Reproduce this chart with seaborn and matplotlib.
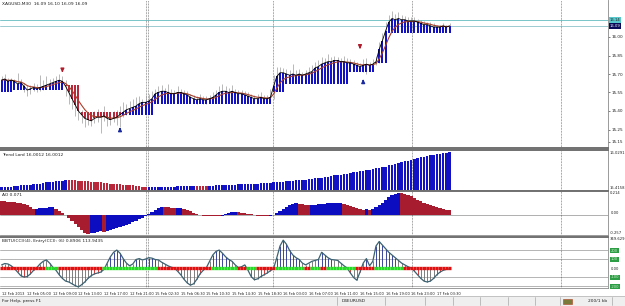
import numpy as np
import pandas as pd
import matplotlib
matplotlib.use("Agg")
import matplotlib.pyplot as plt
from matplotlib.patches import Rectangle
from matplotlib.lines import Line2D
import seaborn as sns

# ---- values (XAGUSD, M30) ----
close = [15.65, 15.66, 15.64, 15.65,
         15.64, 15.62, 15.63, 15.60, 15.57,
         15.58, 15.59, 15.58, 15.59, 15.60, 15.61, 15.62,
         15.63, 15.64, 15.65, 15.64,
         15.60, 15.55, 15.50, 15.45, 15.40, 15.37, 15.34, 15.33, 15.32,
         15.34, 15.35, 15.35, 15.36, 15.34, 15.33, 15.34, 15.35, 15.37,
         15.39, 15.41, 15.42, 15.43, 15.44, 15.46, 15.47, 15.47, 15.48, 15.50,
         15.54, 15.55, 15.56, 15.56, 15.55, 15.54, 15.54, 15.55, 15.55, 15.54, 15.53,
         15.51, 15.50, 15.49, 15.50, 15.49, 15.49, 15.50, 15.51,
         15.53, 15.55, 15.56, 15.56, 15.55, 15.56, 15.55, 15.54, 15.54, 15.53, 15.52,
         15.51, 15.50, 15.50, 15.51, 15.50, 15.50, 15.51,
         15.60, 15.68, 15.71, 15.71,
         15.70, 15.69, 15.70, 15.69, 15.70, 15.69, 15.70, 15.71, 15.72,
         15.75, 15.76, 15.78,
         15.79, 15.80, 15.80, 15.81, 15.81, 15.80, 15.80, 15.79,
         15.79, 15.78, 15.77, 15.76, 15.77, 15.78, 15.77, 15.78, 15.80,
         15.90, 15.97, 16.05, 16.12, 16.15, 16.14,
         16.15, 16.14, 16.14, 16.13, 16.13,
         16.13, 16.12, 16.11, 16.10, 16.10, 16.09,
         16.08, 16.08, 16.08, 16.09, 16.08, 16.09]

high = [15.68, 15.70, 15.67, 15.67,
        15.66, 15.71, 15.66, 15.63, 15.61,
        15.61, 15.63, 15.62, 15.69, 15.65, 15.68, 15.66,
        15.67, 15.68, 15.70, 15.68,
        15.65, 15.59, 15.55, 15.50, 15.46, 15.41, 15.38, 15.37, 15.39,
        15.40, 15.42, 15.39, 15.44, 15.38, 15.37, 15.40, 15.41, 15.44,
        15.47, 15.46, 15.48, 15.50, 15.51, 15.52, 15.50, 15.53, 15.54, 15.56,
        15.58, 15.60, 15.61, 15.59, 15.62, 15.58, 15.57, 15.60, 15.58, 15.57, 15.56,
        15.54, 15.53, 15.52, 15.54, 15.52, 15.52, 15.53, 15.55,
        15.57, 15.60, 15.62, 15.60, 15.59, 15.61, 15.58, 15.57, 15.57, 15.56, 15.55,
        15.54, 15.53, 15.54, 15.55, 15.53, 15.53, 15.58,
        15.69, 15.76, 15.76, 15.75,
        15.74, 15.73, 15.78, 15.73, 15.74, 15.72, 15.73, 15.76, 15.77,
        15.80, 15.81, 15.84,
        15.83, 15.86, 15.84, 15.85, 15.84, 15.83, 15.85, 15.83,
        15.82, 15.81, 15.80, 15.79, 15.82, 15.83, 15.80, 15.82, 15.85,
        15.96, 16.03, 16.12, 16.18, 16.21, 16.19,
        16.20, 16.18, 16.17, 16.16, 16.16,
        16.16, 16.15, 16.14, 16.13, 16.12, 16.12,
        16.11, 16.10, 16.10, 16.11, 16.10, 16.11]

low = [15.62, 15.63, 15.61, 15.62,
       15.60, 15.58, 15.59, 15.55, 15.52,
       15.54, 15.56, 15.55, 15.56, 15.57, 15.58, 15.59,
       15.60, 15.61, 15.62, 15.60,
       15.52, 15.46, 15.42, 15.36, 15.33, 15.30, 15.27, 15.29, 15.28,
       15.30, 15.31, 15.22, 15.32, 15.28, 15.29, 15.31, 15.29, 15.27,
       15.35, 15.37, 15.38, 15.39, 15.41, 15.42, 15.43, 15.44, 15.45, 15.46,
       15.50, 15.51, 15.53, 15.52, 15.51, 15.51, 15.51, 15.52, 15.52, 15.50, 15.49,
       15.47, 15.47, 15.46, 15.47, 15.46, 15.46, 15.47, 15.48,
       15.50, 15.52, 15.53, 15.53, 15.52, 15.53, 15.52, 15.51, 15.51, 15.50, 15.49,
       15.48, 15.47, 15.47, 15.48, 15.47, 15.47, 15.48,
       15.50, 15.59, 15.67, 15.68,
       15.67, 15.66, 15.67, 15.66, 15.67, 15.66, 15.67, 15.68, 15.69,
       15.71, 15.73, 15.75,
       15.76, 15.77, 15.77, 15.78, 15.78, 15.77, 15.77, 15.76,
       15.76, 15.75, 15.74, 15.73, 15.72, 15.70, 15.74, 15.75, 15.77,
       15.79, 15.88, 15.95, 16.04, 16.10, 16.10,
       16.11, 16.11, 16.11, 16.10, 16.10,
       16.10, 16.09, 16.08, 16.07, 16.07, 16.06,
       16.06, 16.06, 16.06, 16.07, 16.06, 16.07]

# trailing level the trend bars are drawn from: (level, number of bars)
stop_runs = [(15.55, 4), (15.57, 16), (15.61, 5), (15.39, 13), (15.37, 10),
             (15.46, 37), (15.55, 4), (15.62, 20), (15.72, 8), (15.79, 4), (16.03, 20)]

trend = [15.43, 15.43, 15.44, 15.44, 15.45, 15.45, 15.46, 15.46, 15.47, 15.47, 15.48,
         15.49, 15.49, 15.50, 15.51, 15.52, 15.52, 15.53, 15.54, 15.54, 15.55,
         15.55, 15.55, 15.55, 15.54, 15.54, 15.53, 15.53, 15.52, 15.52, 15.51, 15.51,
         15.50, 15.50, 15.49, 15.49, 15.48, 15.48, 15.47, 15.47, 15.46, 15.46, 15.45,
         15.45, 15.44, 15.44,
         15.43, 15.43, 15.43, 15.43, 15.44, 15.44, 15.44, 15.44, 15.44, 15.45, 15.45,
         15.45, 15.45, 15.45, 15.45,
         15.45, 15.45, 15.45, 15.45,
         15.45, 15.45, 15.46, 15.46, 15.46, 15.47, 15.47, 15.47, 15.47, 15.48, 15.48,
         15.48, 15.49, 15.49, 15.49, 15.49, 15.50, 15.50, 15.50, 15.50,
         15.51, 15.51, 15.52, 15.52, 15.53, 15.54, 15.54, 15.55, 15.55, 15.56, 15.56,
         15.57, 15.57, 15.58, 15.58, 15.59,
         15.60, 15.61, 15.62, 15.63, 15.63, 15.64, 15.65, 15.66, 15.67,
         15.68, 15.69, 15.70, 15.71, 15.72, 15.73, 15.74, 15.75, 15.76, 15.77,
         15.78, 15.80, 15.81, 15.83, 15.84, 15.86, 15.87, 15.88, 15.90, 15.91, 15.92, 15.94,
         15.95, 15.96, 15.97, 15.98, 15.99, 16.00, 16.01, 16.02, 16.03]
trend_red = [(21, 45), (61, 64)]

ao = [0.14, 0.14, 0.13, 0.13, 0.13, 0.12, 0.12, 0.11, 0.10, 0.08, 0.06,
      0.062, 0.065, 0.068, 0.07, 0.073, 0.075,
      0.06, 0.04, 0.02, 0.00,
      -0.03, -0.06, -0.09, -0.12, -0.15, -0.17, -0.18,
      -0.175, -0.17, -0.165, -0.16,
      -0.165,
      -0.16, -0.15, -0.14, -0.13, -0.12, -0.11, -0.10, -0.085, -0.07, -0.055, -0.04, -0.025, -0.01,
      0.01, 0.03, 0.05, 0.065, 0.08,
      0.078, 0.075, 0.07, 0.065,
      0.068, 0.07,
      0.06, 0.05, 0.035, 0.02, 0.01, 0.0,
      -0.005, -0.008, -0.01, -0.012, -0.013, -0.014,
      -0.005, 0.005, 0.015, 0.025, 0.03,
      0.028, 0.022, 0.016, 0.01, 0.005, 0.0, -0.005, -0.008, -0.01, -0.012,
      -0.008, 0.0, 0.02, 0.04, 0.06, 0.08, 0.095, 0.105, 0.115,
      0.11, 0.105, 0.10, 0.095,
      0.097, 0.10, 0.103, 0.106, 0.109, 0.112, 0.115, 0.117, 0.119, 0.12,
      0.11, 0.10, 0.09, 0.08, 0.07, 0.06, 0.05,
      0.055, 0.05,
      0.06, 0.08, 0.10, 0.12, 0.145, 0.17, 0.19, 0.205, 0.214,
      0.21, 0.20, 0.19, 0.18, 0.165, 0.15, 0.135, 0.12, 0.11, 0.10, 0.09, 0.08, 0.07,
      0.06, 0.05, 0.045]

cci = [40, 55, 50, 30, 0, -40, -80, -95, -90, -60, -20, 10, 50, 80, 95, 60, 15,
       -20, -70, -110, -140, -150, -170, -190, -205, -180, -150, -110, -80, -60, -50, -40,
       -10, 60, 130, 180, 205, 170, 110, 60, 30, 50,
       100, 110, 95, 105, 120, 115, 100, 95, 70, 50, 30, 15, 5,
       -30, -70, -120, -160, -185, -170, -120, -60, -20, 10,
       80, 150, 190, 205, 170, 130, 100, 80, 40, 10, 20, 40,
       -20, -90, -125, -115, -90, -70, -50, -25, 0,
       120, 250, 315, 270, 200, 150, 120, 100, 60, 40, 60, 80, 90, 100,
       180, 150, 120, 100, 95, 90, 60, 30, 5, -50, -100, -130, -40, 60,
       110, 30, 80, 250, 300, 260, 220, 180, 150, 120, 90, 60, 40, 20, 5,
       -30, -70, -110, -140, -150, -140, -110, -70, -40, -20, -10, -5]
cci_signal_runs = [("r", 14), ("g", 4), ("r", 14), ("g", 17), ("r", 17), ("g", 8),
                   ("r", 3), ("g", 3), ("r", 6), ("g", 9), ("r", 2), ("g", 3),
                   ("r", 2), ("g", 9), ("r", 6), ("g", 9), ("r", 15)]
cci_levels = [200, 100, -100, -200]

time_labels = ["12 Feb 2013", "12 Feb 05:00", "12 Feb 09:00", "12 Feb 13:00",
               "12 Feb 17:00", "12 Feb 21:00", "15 Feb 02:30", "15 Feb 06:30",
               "15 Feb 10:30", "15 Feb 14:30", "15 Feb 18:30", "16 Feb 03:00",
               "16 Feb 07:00", "16 Feb 11:00", "16 Feb 15:00", "16 Feb 19:00",
               "16 Feb 23:00", "17 Feb 03:30"]
price_ticks = [16.00, 15.85, 15.70, 15.55, 15.40, 15.25, 15.15]
arrow_dn_bars, arrow_dn_price = [19, 112], [15.69, 15.88]
arrow_up_bars, arrow_up_price = [37, 113], [15.29, 15.68]
day_breaks = [45.0, 45.9, 84.8, 128.3, 174.8]
ask, bid = 16.14, 16.09

BLUE = "#1212c4"
RED = "#b8283a"

sns.set_style("white")
plt.rcParams["font.family"] = ["DejaVu Sans"]
plt.rcParams["font.size"] = 3.4

W, H = 625, 306
fig = plt.figure(figsize=(W / 100, H / 100), dpi=100)
fig.patch.set_facecolor("white")


def px_axes(x0, y0, x1, y1):
    return fig.add_axes([x0 / W, 1 - y1 / H, (x1 - x0) / W, (y1 - y0) / H])


ax_main = px_axes(0, 0, 608, 148)
ax_tr = px_axes(0, 150, 608, 190)
ax_ao = px_axes(0, 191, 608, 235)
ax_cci = px_axes(0, 237, 608, 288)
axes = [ax_main, ax_tr, ax_ao, ax_cci]

n = len(close)
x = np.arange(n)
c = np.array(close)
stop = np.array([v for v, k in stop_runs for _ in range(k)])

# main price panel
ax = ax_main
ax.vlines(x, low, high, color="#9c9c9c", lw=0.5, zorder=1)
up = c >= stop
ax.bar(x, np.abs(c - stop), bottom=np.minimum(c, stop), width=0.62,
       color=np.where(up, BLUE, RED), linewidth=0, zorder=2)
ema = pd.Series(close).ewm(span=5, adjust=False).mean()
sns.lineplot(x=x, y=ema.values, ax=ax, color="#a8402c", lw=0.8, zorder=3)
sns.lineplot(x=x, y=c, ax=ax, color="black", lw=0.6, zorder=4)
for b, p in zip(arrow_dn_bars, arrow_dn_price):
    ax.annotate("", xy=(b, p), xytext=(b, p + 0.06),
                arrowprops=dict(arrowstyle="-|>", color="#b01c2c", lw=1.0, mutation_scale=5))
for b, p in zip(arrow_up_bars, arrow_up_price):
    ax.annotate("", xy=(b, p), xytext=(b, p - 0.06),
                arrowprops=dict(arrowstyle="-|>", color="#1a2a9c", lw=1.0, mutation_scale=5))
ax.axhline(ask, color="#78c4c8", lw=0.7, zorder=0)
ax.axhline(bid, color="#9ccad2", lw=0.7, zorder=0)
ax.set_ylim(15.10, 16.30)
ax.set_yticks(price_ticks)
ax.set_yticklabels([f"{t:.2f}" for t in price_ticks])
ax.text(0.004, 0.985, "XAGUSD,M30  16.09 16.10 16.09 16.09", transform=ax.transAxes,
        va="top", ha="left", fontsize=3.2, color="#202020")

# trend lord panel
ax = ax_tr
tcol = [BLUE] * n
for a, b in trend_red:
    for i in range(a, b + 1):
        tcol[i] = RED
tr_lo, tr_hi = 15.382, 16.063
ax.bar(x, np.array(trend) - tr_lo, bottom=tr_lo, width=0.7, color=tcol, linewidth=0)
ax.set_ylim(tr_lo, tr_hi)
ax.text(0.004, 0.93, "Trend Lord 16.0012 16.0012", transform=ax.transAxes,
        va="top", ha="left", fontsize=3.2, color="#202020")

# awesome oscillator panel
ax = ax_ao
ao_arr = np.array(ao)
ao_up = np.r_[False, np.diff(ao_arr) > 0]
ax.bar(x, ao_arr, width=1.0, color=np.where(ao_up, "#0c0cc0", "#a81c30"), linewidth=0)
ax.axhline(0, color="#909090", lw=0.5, zorder=0)
ax.set_ylim(-0.194, 0.233)
ax.text(0.004, 0.95, "AO 0.071", transform=ax.transAxes,
        va="top", ha="left", fontsize=3.2, color="#202020")

# cci panel
ax = ax_cci
cc = np.array(cci, dtype=float)
ccol = []
for v in cc:
    if v >= 100:
        ccol.append("#1c2a8c")
    elif v > 0:
        ccol.append("#6a6a6a")
    elif v > -100:
        ccol.append("#d01818")
    else:
        ccol.append("#6a6a6a")
for lv in cci_levels:
    ax.axhline(lv, color="#a8a8a8", lw=0.6, zorder=0)
ax.vlines(x, 0, cc, colors=ccol, lw=0.6, zorder=1)
sns.lineplot(x=x, y=cc, ax=ax, color="#3c6272", lw=0.9, zorder=2)
sig = [s for s, k in cci_signal_runs for _ in range(k)]
ax.hlines(np.zeros(n), x - 0.5, x + 0.5,
          colors=["#22dd22" if s == "g" else "#e01010" for s in sig], lw=2.4, zorder=3)
ax.set_ylim(-216.7, 350)
ax.text(0.004, 0.97, "BBTU(CCI)(4), Entry(CCI): (6) 0.8906 113.9435", transform=ax.transAxes,
        va="top", ha="left", fontsize=3.2, color="#202020")
ax.set_xticks(np.arange(len(time_labels)) * 8)
ax.set_xticklabels(time_labels)

for a in axes:
    a.set_xlim(-0.5, 189.5)
    a.set_xlabel("")
    a.set_ylabel("")
    for b in day_breaks:
        a.axvline(b, color="#505050", lw=0.5, ls=(0, (1, 1.2)), zorder=0)
    for sp in a.spines.values():
        sp.set_color("#8a8a8a")
        sp.set_linewidth(0.6)
    a.spines["left"].set_visible(False)
    a.yaxis.tick_right()
    a.tick_params(axis="y", length=1.5, width=0.4, pad=1, labelsize=3.0, colors="#202020")
for a in [ax_main, ax_tr, ax_ao]:
    a.set_xticks([])
for a in [ax_tr, ax_ao, ax_cci]:
    a.set_yticks([])
    a.spines["top"].set_linewidth(1.4)
    a.spines["top"].set_color("#707070")
ax_main.spines["top"].set_visible(False)
ax_main.spines["bottom"].set_linewidth(1.4)
ax_main.spines["bottom"].set_color("#707070")
ax_cci.tick_params(axis="x", length=1.5, width=0.4, pad=1.5, labelsize=2.6, colors="#202020")
for lbl in ax_cci.get_xticklabels():
    lbl.set_ha("left")


def fig_label(px_x, px_y, s, fc=None, color="#202020"):
    kw = dict(fontsize=2.7, color=color, va="center", ha="left")
    if fc is not None:
        kw["bbox"] = dict(boxstyle="square,pad=0.15", fc=fc, ec="none")
    fig.text(px_x / W, 1 - px_y / H, s, **kw)


# right scale labels of the price and indicator panels
fig_label(610, 20, f"{ask:.2f}", fc="#58c8cc")
fig_label(610, 26, f"{bid:.2f}", fc="#0a0a5a", color="white")
fig_label(609.5, 153, "16.0291")
fig_label(609.5, 188, "15.4158")
fig_label(610, 193.5, "0.214")
fig_label(611, 213.5, "0.00")
fig_label(610, 233, "-0.257")
fig_label(609.5, 239.5, "349.629")
fig_label(611, 250.5, "200", fc="#2e9e46", color="#c8f0c8")
fig_label(611, 259.5, "100", fc="#2e9e46", color="#c8f0c8")
fig_label(611, 268.5, "0.00")
fig_label(611, 277.5, "-100", fc="#2e9e46", color="#c8f0c8")
fig_label(611, 286.5, "-200", fc="#2e9e46", color="#c8f0c8")

# status bar
fig.add_artist(Rectangle((0, 0), 1, 10 / H, transform=fig.transFigure,
                         fc="#efefef", ec="none"))
fig.add_artist(Line2D([0, 1], [10 / H, 10 / H], transform=fig.transFigure,
                      color="#b0b0b0", lw=0.5))
for sx in [337, 385, 425, 453, 480, 508, 535, 560, 612]:
    fig.add_artist(Line2D([sx / W, sx / W], [1 / H, 9 / H], transform=fig.transFigure,
                          color="#a8a8a8", lw=0.5))
fig.text(2 / W, 5 / H, "For Help, press F1", fontsize=3.2, va="center", ha="left", color="#202020")
fig.text(342 / W, 5 / H, "D4EURUSD", fontsize=3.2, va="center", ha="left", color="#202020")
fig.text(588 / W, 5 / H, "200/1 kb", fontsize=3.2, va="center", ha="left", color="#202020")
fig.add_artist(Rectangle((563 / W, 2.5 / H), 9 / W, 5 / H, transform=fig.transFigure,
                         fc="#7a7a3a", ec="#b04020", lw=0.4))

fig.savefig("out.png", dpi=100)
